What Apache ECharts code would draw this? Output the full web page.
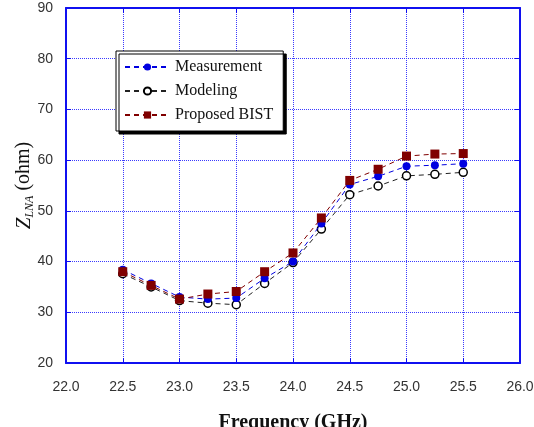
<!DOCTYPE html>
<html>
<head>
<meta charset="utf-8">
<script src="https://cdn.jsdelivr.net/npm/echarts@6/dist/echarts.min.js"></script>
<style>html,body{margin:0;padding:0;background:#fff}#c{width:534px;height:427px}</style>
</head>
<body>
<div id="c"></div>
<script>
var freq = [22.5, 22.75, 23.0, 23.25, 23.5, 23.75, 24.0, 24.25, 24.5, 24.75, 25.0, 25.25, 25.5];
var measurement = [38.4, 35.7, 33.0, 32.6, 32.8, 36.7, 40.0, 47.5, 55.2, 56.8, 58.8, 59.0, 59.3];
var modeling = [37.6, 35.0, 32.3, 31.8, 31.5, 35.7, 39.8, 46.4, 53.2, 54.9, 56.9, 57.2, 57.6];
var proposed = [38.0, 35.3, 32.6, 33.6, 34.1, 38.0, 41.7, 48.6, 56.0, 58.2, 60.8, 61.2, 61.3];
var xMin = 22.0, xMax = 26.0, xStep = 0.5;
var yMin = 20, yMax = 90, yStep = 10;

function pairs(vals){ return freq.map(function(f,i){ return [f, vals[i]]; }); }

var axisBlue = '#1010f0';
var gridBlue = '#3a3aff';
var labelStyle = { color: '#333', fontFamily: 'Liberation Sans, Arial, sans-serif', fontSize: 14 };

var chart = echarts.init(document.getElementById('c'), null, { renderer: 'canvas' });
chart.setOption({
  animation: false,
  backgroundColor: '#fff',
  grid: { left: 66, right: 14, top: 8, bottom: 64, containLabel: false, outerBoundsMode: 'none' },
  legend: {
    orient: 'vertical',
    left: 116, top: 51,
    padding: [8, 10, 8, 8],
    itemGap: 8,
    itemWidth: 45, itemHeight: 9,
    backgroundColor: '#fff',
    borderColor: '#000', borderWidth: 1,
    shadowColor: '#000', shadowBlur: 0, shadowOffsetX: 3, shadowOffsetY: 3,
    textStyle: { color: '#111', fontFamily: 'Liberation Serif, Times New Roman, serif', fontSize: 16 },
    data: ['Measurement', 'Modeling', 'Proposed BIST']
  },
  xAxis: [{
    type: 'value', min: xMin, max: xMax, interval: xStep, position: 'bottom',
    name: 'Frequency (GHz)', nameLocation: 'middle', nameGap: 50, nameMoveOverlap: false,
    nameTextStyle: { color: '#111', fontFamily: 'Liberation Serif, Times New Roman, serif', fontSize: 20, fontWeight: 'bold' },
    axisLine: { show: true, lineStyle: { color: axisBlue, width: 2 } },
    axisTick: { show: true, inside: true, length: 5, lineStyle: { color: axisBlue, width: 1 } },
    axisLabel: Object.assign({ margin: 17, formatter: function(v){ return v.toFixed(1); } }, labelStyle),
    splitLine: { show: true, lineStyle: { color: gridBlue, type: [1, 1], width: 1 } }
  }, {
    type: 'value', min: xMin, max: xMax, interval: xStep, position: 'top',
    axisLine: { show: true, lineStyle: { color: axisBlue, width: 2 } },
    axisTick: { show: true, inside: true, length: 5, lineStyle: { color: axisBlue, width: 1 } },
    axisLabel: { show: false }, splitLine: { show: false }
  }],
  yAxis: [{
    type: 'value', min: yMin, max: yMax, interval: yStep, position: 'left',
    name: '{z|Z}{sub|LNA}{n| (ohm)}', nameLocation: 'middle', nameGap: 30, nameMoveOverlap: false,
    nameTextStyle: {
      color: '#111',
      rich: {
        z: { fontFamily: 'Liberation Serif, serif', fontStyle: 'italic', fontSize: 21, color: '#111' },
        sub: { fontFamily: 'Liberation Serif, serif', fontStyle: 'italic', fontSize: 12, color: '#111', padding: [12, 0, 0, 0] },
        n: { fontFamily: 'Liberation Serif, serif', fontSize: 20, color: '#111' }
      }
    },
    axisLine: { show: true, lineStyle: { color: axisBlue, width: 2 } },
    axisTick: { show: true, inside: true, length: 5, lineStyle: { color: axisBlue, width: 1 } },
    axisLabel: Object.assign({ margin: 13 }, labelStyle),
    splitLine: { show: true, lineStyle: { color: gridBlue, type: [1, 1], width: 1 } }
  }, {
    type: 'value', min: yMin, max: yMax, interval: yStep, position: 'right',
    axisLine: { show: true, lineStyle: { color: axisBlue, width: 2 } },
    axisTick: { show: true, inside: true, length: 5, lineStyle: { color: axisBlue, width: 1 } },
    axisLabel: { show: false }, splitLine: { show: false }
  }],
  series: [{
    name: 'Modeling', type: 'line', data: pairs(modeling),
    symbol: 'circle', symbolSize: 8, showAllSymbol: true,
    lineStyle: { color: '#222', width: 1, type: [5, 4] },
    itemStyle: { color: '#fff', borderColor: '#000', borderWidth: 1.5 },
    z: 2
  }, {
    name: 'Measurement', type: 'line', data: pairs(measurement),
    symbol: 'circle', symbolSize: 8,
    lineStyle: { color: '#0000e0', width: 1, type: [5, 4] },
    itemStyle: { color: '#0000e0', borderColor: '#0000e0', borderWidth: 0 },
    z: 3
  }, {
    name: 'Proposed BIST', type: 'line', data: pairs(proposed),
    symbol: 'rect', symbolSize: 9,
    lineStyle: { color: '#800000', width: 1, type: [5, 4] },
    itemStyle: { color: '#800000', borderWidth: 0 },
    z: 4
  }]
});
</script>
</body>
</html>
